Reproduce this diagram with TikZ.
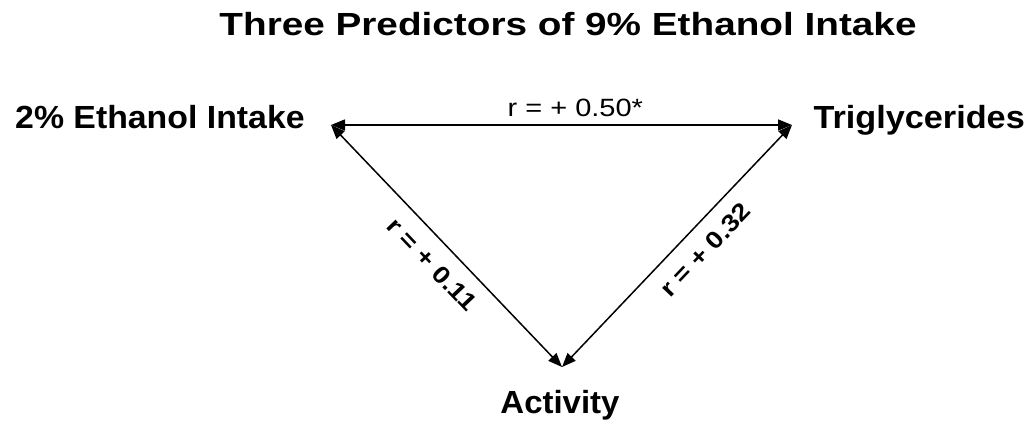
\documentclass[tikz,border=0pt]{standalone}
\usepackage{fontspec}
\setmainfont{Liberation Sans}
\usetikzlibrary{arrows.meta}
\begin{document}
\begin{tikzpicture}[x=1pt,y=-1pt,
  lbl/.style={font=\fontsize{32}{38}\selectfont\bfseries, inner sep=0pt},
  rlab/.style={font=\fontsize{25}{30}\selectfont, inner sep=0pt},
  dlab/.style={font=\fontsize{24}{28}\selectfont\bfseries, inner sep=0pt},
  conn/.style={line width=1.5pt, {Triangle[length=14pt,width=11pt]}-{Triangle[length=14pt,width=11pt]}}]
\useasboundingbox (0,0) rectangle (1035,426);
\node[lbl, anchor=base] (title) at (568,35) {\scalebox{1.21}[1]{Three Predictors of 9\% Ethanol Intake}};
\node[lbl, anchor=base west] (eth) at (15,128) {\scalebox{1.057}[1]{2\% Ethanol Intake}};
\node[lbl, anchor=base east] (tri) at (1025,128) {\scalebox{1.07}[1]{Triglycerides}};
\node[lbl, anchor=base] (act) at (560,413) {\scalebox{1.03}[1]{Activity}};
\coordinate (a) at (331,125);
\coordinate (b) at (792,125);
\coordinate (c) at (562,367);
\draw[conn] (a) -- (b) node[pos=0.53, above=8pt, rlab] (r1) {\scalebox{1.16}[1]{r = + 0.50*}};
\draw[conn] (a) -- (c) node[pos=0.51, sloped, below=14pt, dlab] (r2) {\scalebox{1.15}[1]{r = + 0.11}};
\draw[conn] (c) -- (b) node[pos=0.55, sloped, below=14pt, dlab] (r3) {\scalebox{1.15}[1]{r = + 0.32}};
\end{tikzpicture}
\end{document}
